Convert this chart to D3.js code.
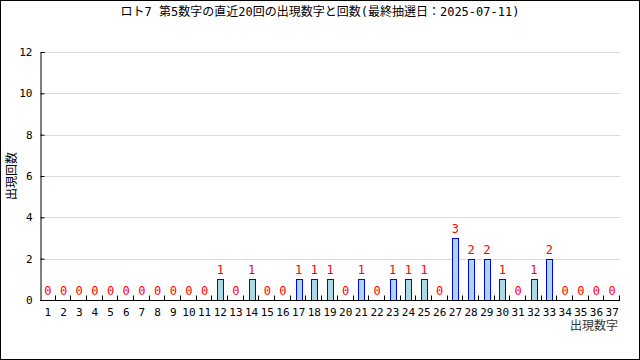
<!DOCTYPE html>
<html>
<head>
<meta charset="utf-8">
<script src="https://cdn.jsdelivr.net/npm/d3@7"></script>
<style>
  body { margin: 0; background: #fff; }
  svg { display: block; }
  text { font-family: "DejaVu Sans Mono", "Noto Sans CJK JP", monospace; }
</style>
</head>
<body>
<div id="chart"></div>
<script>
const title = "ロト7 第5数字の直近20回の出現数字と回数(最終抽選日：2025-07-11)"
const numbers = d3.range(1, 38)
const counts = [0,0,0,0,0,0,0,0,0,0,0,1,0,1,0,0,1,1,1,0,1,0,1,1,1,0,3,2,2,1,0,1,2,0,0,0,0]
const yTicks = [0, 2, 4, 6, 8, 10, 12]

const W = 640, H = 360
const MARGIN = { TOP: 52, BOTTOM: 60, LEFT: 40, RIGHT: 20 }

const svg = d3.select("#chart").append("svg")
    .attr("width", W)
    .attr("height", H)

// outer frame
svg.append("rect")
    .attr("x", 0.5).attr("y", 0.5)
    .attr("width", W - 1).attr("height", H - 1)
    .attr("fill", "none").attr("stroke", "#000")

const x = d3.scaleBand()
    .domain(numbers)
    .range([MARGIN.LEFT, W - MARGIN.RIGHT])

const y = d3.scaleLinear()
    .domain([0, 12])
    .range([H - MARGIN.BOTTOM, MARGIN.TOP])

// grid
svg.append("g").selectAll("line")
    .data(yTicks.filter(d => d > 0))
    .enter().append("line")
    .attr("x1", MARGIN.LEFT).attr("x2", W - MARGIN.RIGHT)
    .attr("y1", d => Math.round(y(d)) + 0.5).attr("y2", d => Math.round(y(d)) + 0.5)
    .attr("stroke", "#d9d9d9")

// y axis
const yAxis = d3.axisLeft(y).tickValues(yTicks).tickSize(-4).tickPadding(8)
const yg = svg.append("g")
    .attr("transform", `translate(${MARGIN.LEFT + 0.5},0)`)
    .call(yAxis)
yg.select(".domain").attr("stroke", "#000")
yg.selectAll("text").attr("font-size", 11).attr("fill", "#000")
    .style("font-family", "DejaVu Sans Mono")

// bars
const bw = 6
svg.append("g").selectAll("rect")
    .data(numbers.filter((d, i) => counts[i] > 0))
    .enter().append("rect")
    .attr("x", d => Math.round(x(d) + x.bandwidth() / 2 - bw / 2) + 0.5)
    .attr("y", d => Math.round(y(counts[d - 1])) + 0.5)
    .attr("width", bw)
    .attr("height", d => Math.round(y(0)) - Math.round(y(counts[d - 1])))
    .attr("fill", "#add8e6")
    .attr("stroke", "#0000ff")

// value labels
svg.append("g").selectAll("text")
    .data(numbers)
    .enter().append("text")
    .attr("x", d => x(d) + x.bandwidth() / 2)
    .attr("y", (d, i) => y(counts[i]) - 5)
    .attr("text-anchor", "middle")
    .attr("font-size", 12)
    .attr("fill", "#ff0000")
    .text((d, i) => counts[i])

// x axis
const xAxis = d3.axisBottom(x).tickSize(0).tickPadding(8)
const xg = svg.append("g")
    .attr("transform", `translate(0,${Math.round(y(0)) + 0.5})`)
    .call(xAxis)
xg.select(".domain").attr("stroke", "#000").attr("d", `M${MARGIN.LEFT},0H${W - MARGIN.RIGHT}`)
xg.selectAll("text").attr("font-size", 11).attr("fill", "#000")
    .style("font-family", "DejaVu Sans Mono")

// boundary ticks on x axis
xg.append("g").selectAll("line")
    .data(numbers)
    .enter().append("line")
    .attr("x1", d => Math.round(x(d) + x.step()) - 0.5)
    .attr("x2", d => Math.round(x(d) + x.step()) - 0.5)
    .attr("y1", 0).attr("y2", -5)
    .attr("stroke", "#000")

// title
svg.append("text")
    .attr("x", W / 2).attr("y", 16)
    .attr("text-anchor", "middle")
    .attr("font-size", 12)
    .attr("fill", "#000")
    .text(title)

// axis titles
svg.append("text")
    .attr("transform", `translate(16,${(MARGIN.TOP + H - MARGIN.BOTTOM) / 2}) rotate(-90)`)
    .attr("text-anchor", "middle")
    .attr("font-size", 12)
    .attr("fill", "#000")
    .text("出現回数")

svg.append("text")
    .attr("x", W - MARGIN.RIGHT - 2).attr("y", 330)
    .attr("text-anchor", "end")
    .attr("font-size", 12)
    .attr("fill", "#333")
    .text("出現数字")
</script>
</body>
</html>
